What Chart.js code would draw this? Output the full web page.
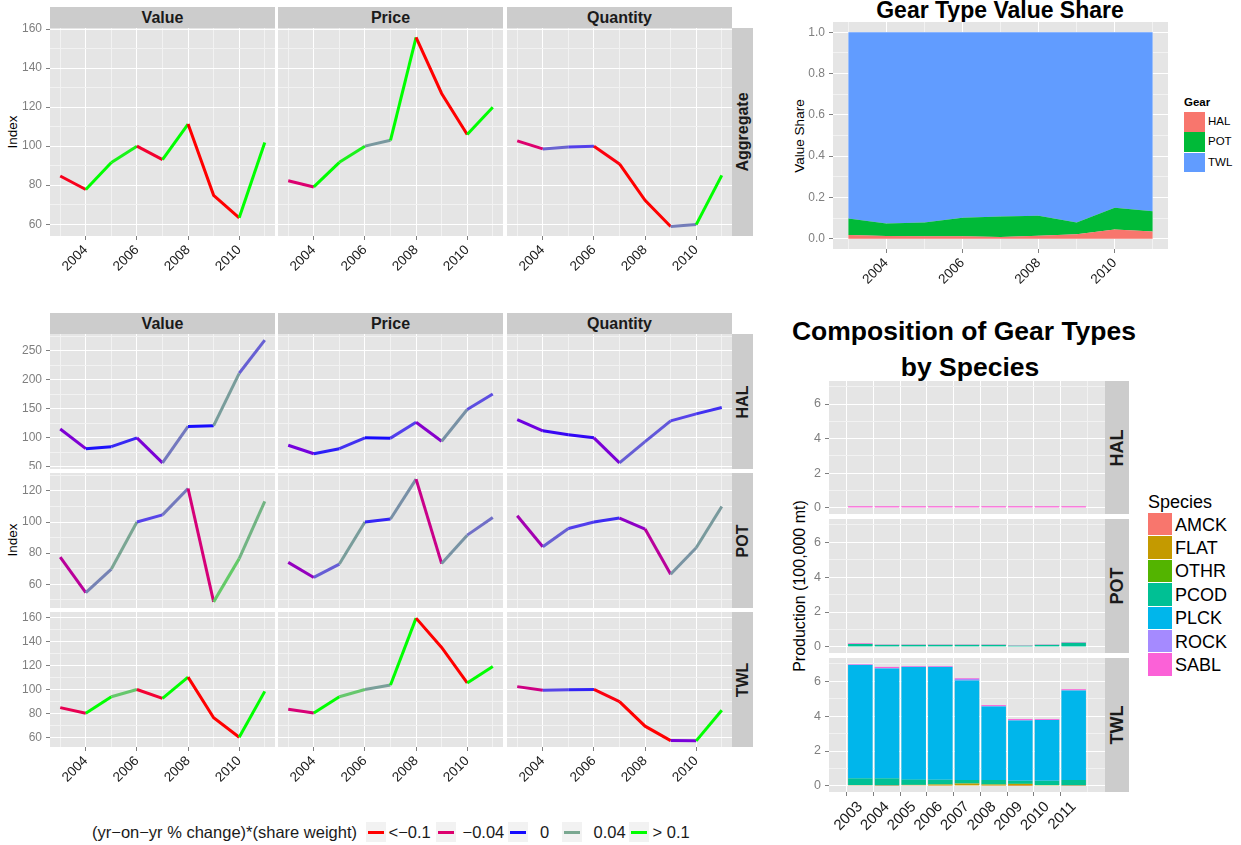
<!DOCTYPE html>
<html>
<head>
<meta charset="utf-8">
<title>Gear type indices</title>
<script src="https://cdn.jsdelivr.net/npm/chart.js@4.4.1/dist/chart.umd.min.js"></script>
<style>
  body { margin: 0; width: 1241px; height: 845px; background: #fff; position: relative; overflow: hidden;
         font-family: "Liberation Sans", Arial, Helvetica, sans-serif; }
  canvas { position: absolute; }
  .box { position: absolute; }
  .txt { position: absolute; white-space: nowrap; line-height: 1; }
</style>
</head>
<body>
<script>
var years = [2003, 2004, 2005, 2006, 2007, 2008, 2009, 2010, 2011];
var measures = ["Value", "Price", "Quantity"];
var gears = ["HAL", "POT", "TWL"];

// indices, 2006 = 100
var aggValue    = [84.7, 77.8, 91.6, 100, 93.1, 111.3, 74.8, 63.3, 101.9];
var aggPrice    = [82.3, 79.1, 91.7, 100, 103.0, 155.7, 127.0, 106.0, 119.9];
var aggQuantity = [102.7, 98.6, 99.6, 100, 90.9, 72.2, 58.8, 59.8, 85.0];

var halValue    = [115.2, 81.4, 84.9, 100, 57.0, 119.7, 121.0, 211.0, 268.0];
var halPrice    = [87.3, 72.6, 81.4, 100, 99.5, 126.7, 94.2, 148.8, 175.5];
var halQuantity = [131.4, 112.2, 105.2, 100, 57.0, 93.5, 129.1, 141.3, 152.3];

var potValue    = [77.4, 54.6, 69.8, 100, 104.6, 121.6, 48.7, 76.5, 113.3];
var potPrice    = [74.1, 64.4, 73.0, 100, 102.0, 127.6, 73.3, 91.6, 103.0];
var potQuantity = [104.1, 84.1, 95.9, 100, 102.6, 95.5, 66.5, 83.5, 110.0];

var twlValue    = [84.8, 80.1, 93.9, 100, 92.5, 110.3, 76.4, 60.0, 98.4];
var twlPrice    = [83.5, 80.3, 93.9, 100, 103.8, 159.7, 135.2, 105.5, 119.3];
var twlQuantity = [102.4, 99.3, 99.8, 100, 89.9, 69.3, 57.2, 57.0, 82.6];

// gear value shares
var halShare = [0.018, 0.013, 0.012, 0.012, 0.008, 0.014, 0.021, 0.044, 0.035];
var potShare = [0.080, 0.060, 0.067, 0.089, 0.099, 0.097, 0.057, 0.106, 0.098];
var twlShare = [0.902, 0.927, 0.921, 0.899, 0.893, 0.889, 0.922, 0.850, 0.867];

// production by species (100,000 mt)
var species = ["AMCK", "FLAT", "OTHR", "PCOD", "PLCK", "ROCK", "SABL"];

var halAMCK = [0, 0, 0, 0, 0, 0, 0, 0, 0];
var halFLAT = [0, 0, 0, 0, 0, 0, 0, 0, 0];
var halOTHR = [0, 0, 0, 0, 0, 0, 0, 0, 0];
var halPCOD = [0, 0, 0, 0, 0, 0, 0, 0, 0];
var halPLCK = [0, 0, 0, 0, 0, 0, 0, 0, 0];
var halROCK = [0, 0, 0, 0, 0, 0, 0, 0, 0];
var halSABL = [0.1, 0.1, 0.1, 0.1, 0.1, 0.1, 0.1, 0.1, 0.1];

var potAMCK = [0, 0, 0, 0, 0, 0, 0, 0, 0];
var potFLAT = [0, 0, 0, 0, 0, 0, 0, 0, 0];
var potOTHR = [0, 0, 0, 0.03, 0.03, 0.03, 0.03, 0.03, 0];
var potPCOD = [0.17, 0.12, 0.12, 0.09, 0.09, 0.09, 0.04, 0.09, 0.24];
var potPLCK = [0, 0, 0, 0, 0, 0, 0, 0, 0];
var potROCK = [0, 0, 0, 0, 0, 0, 0, 0, 0];
var potSABL = [0.04, 0.02, 0.02, 0.02, 0.02, 0.02, 0.02, 0.02, 0.03];

var twlAMCK = [0.04, 0.01, 0.04, 0.02, 0.03, 0.02, 0.01, 0.03, 0.01];
var twlFLAT = [0.00, 0.01, 0.01, 0.05, 0.10, 0.05, 0.10, 0.01, 0.01];
var twlOTHR = [0.01, 0.01, 0.01, 0.02, 0.01, 0.02, 0.01, 0.01, 0.01];
var twlPCOD = [0.38, 0.40, 0.30, 0.26, 0.20, 0.25, 0.17, 0.24, 0.31];
var twlPLCK = [6.50, 6.30, 6.45, 6.46, 5.70, 4.21, 3.46, 3.48, 5.13];
var twlROCK = [0.02, 0.02, 0.02, 0.02, 0.09, 0.02, 0.02, 0.01, 0.01];
var twlSABL = [0.03, 0.07, 0.04, 0.04, 0.04, 0.06, 0.06, 0.05, 0.06];

var changeBreaks = [-0.1, -0.04, 0, 0.04, 0.1];
var changeLabels = ["<\u22120.1", "\u22120.04", "0", "0.04", "> 0.1"];

// ---------- styles ----------
var speciesColors = ["#F8766D", "#C49A00", "#53B400", "#00C094", "#00B6EB", "#A58AFF", "#FB61D7"];
var gearColors = ["#F8766D", "#00BA38", "#619CFF"];

// colour ramp for (yr-on-yr % change)*(share weight)
var ramp = [
  [-0.10, 255, 0, 0],
  [-0.06, 240, 0, 60],
  [-0.04, 221, 0, 110],
  [-0.02, 195, 0, 145],
  [-0.008, 150, 0, 190],
  [-0.002, 115, 0, 222],
  [0, 20, 10, 255],
  [0.004, 85, 65, 235],
  [0.012, 112, 110, 200],
  [0.022, 120, 140, 170],
  [0.04, 122, 168, 145],
  [0.065, 95, 210, 95],
  [0.10, 0, 255, 0]
];
function shade(m) {
  if (m <= ramp[0][0]) return 'rgb(255,0,0)';
  for (var k = 1; k < ramp.length; k++) {
    if (m <= ramp[k][0]) {
      var a = ramp[k - 1], b = ramp[k], t = (m - a[0]) / (b[0] - a[0]);
      return 'rgb(' + [1, 2, 3].map(function (j) { return Math.round(a[j] + t * (b[j] - a[j])); }).join(',') + ')';
    }
  }
  return 'rgb(0,255,0)';
}
function segShade(series, weights, i) {
  var w = weights ? weights[i] : 1;
  return shade((series[i] - series[i - 1]) / series[i - 1] * w);
}

Chart.defaults.font.family = '"Liberation Sans", Arial, Helvetica, sans-serif';
Chart.defaults.animation = false;

var panelBg = {
  id: 'panelBg',
  beforeDraw: function (chart) {
    var a = chart.chartArea, c = chart.ctx;
    c.save();
    c.fillStyle = '#e5e5e5';
    c.fillRect(a.left, a.top, a.right - a.left, a.bottom - a.top);
    c.restore();
  }
};

function box(x, y, w, h, color) {
  var d = document.createElement('div');
  d.className = 'box';
  d.style.cssText = 'left:' + x + 'px;top:' + y + 'px;width:' + w + 'px;height:' + h + 'px;background:' + color + ';';
  document.body.appendChild(d);
  return d;
}
function text(str, x, y, size, o) {
  o = o || {};
  var d = document.createElement('div');
  d.className = 'txt';
  d.textContent = str;
  d.style.cssText = 'left:' + x + 'px;top:' + y + 'px;font-size:' + size + 'px;color:' + (o.color || '#000') + ';' +
    (o.bold ? 'font-weight:bold;' : '') +
    'transform:translate(' + (o.left ? '0' : '-50%') + ',-50%)' + (o.rot ? ' rotate(-90deg)' : '') + ';';
  document.body.appendChild(d);
}
function canvasAt(x, y, w, h) {
  var cv = document.createElement('canvas');
  cv.width = w; cv.height = h;
  cv.style.left = x + 'px'; cv.style.top = y + 'px';
  document.body.appendChild(cv);
  return cv;
}

function isMajor(v, step) { var r = v / step; return Math.abs(r - Math.round(r)) < 1e-6; }
function halfTicks(min, max, step) {
  var out = [], half = step / 2;
  for (var v = Math.ceil(min / half - 1e-9) * half; v <= max + 1e-9; v += half) out.push({ value: +v.toFixed(6) });
  return out;
}

function yScale(min, max, step, width, fontSize, fmt) {
  var show = width > 0;
  return {
    type: 'linear', min: min, max: max, bounds: 'data', stacked: false,
    afterBuildTicks: function (s) { s.ticks = halfTicks(min, max, step); },
    afterFit: function (s) { s.width = width; s.paddingTop = 0; s.paddingBottom = 0; },
    border: { display: false },
    grid: {
      color: function (c) { return c.tick && isMajor(c.tick.value, step) ? '#ffffff' : '#f2f2f2'; },
      lineWidth: 1, drawTicks: show, tickLength: 4,
      tickColor: function (c) { return c.tick && isMajor(c.tick.value, step) ? '#7f7f7f' : 'rgba(0,0,0,0)'; }
    },
    ticks: {
      display: show, autoSkip: false, padding: 4, color: '#7f7f7f', font: { size: fontSize },
      callback: function (v) { return isMajor(v, step) ? fmt(v) : ''; }
    }
  };
}
function xScale(min, max, vals, majorFn, height, fontSize) {
  var show = height > 0;
  return {
    type: 'linear', min: min, max: max, bounds: 'data',
    afterBuildTicks: function (s) { s.ticks = vals.map(function (v) { return { value: v }; }); },
    afterFit: function (s) { s.height = height; s.paddingLeft = 0; s.paddingRight = 0; },
    border: { display: false },
    grid: {
      color: function (c) { return c.tick && majorFn(c.tick.value) ? '#ffffff' : '#f2f2f2'; },
      lineWidth: 1, drawTicks: show, tickLength: 4,
      tickColor: function (c) { return c.tick && majorFn(c.tick.value) ? '#7f7f7f' : 'rgba(0,0,0,0)'; }
    },
    ticks: {
      display: show, autoSkip: false, padding: 2, color: '#1a1a1a', font: { size: fontSize },
      minRotation: 45, maxRotation: 45,
      callback: function (v) { return majorFn(v) ? String(v) : ''; }
    }
  };
}
function evenYear(v) { return v % 2 === 0; }
function anyYear() { return true; }

function pad5(arrs) {
  var all = [].concat.apply([], arrs);
  var lo = Math.min.apply(null, all), hi = Math.max.apply(null, all), e = (hi - lo) * 0.05;
  return [lo - e, hi + e];
}

function linePanel(series, weights, x, y, w, h, range, step, showY, showX) {
  var padL = showY ? 50 : 0, padB = showX ? 60 : 0, padT = 8;
  var cv = canvasAt(x - padL, y - padT, w + padL, h + padB + padT);
  new Chart(cv, {
    type: 'line',
    data: {
      datasets: [{
        data: series.map(function (v, i) { return { x: years[i], y: v }; }),
        borderWidth: 3, pointRadius: 0, tension: 0, borderCapStyle: 'butt', borderColor: '#0000ff',
        segment: { borderColor: function (c) { return segShade(series, weights, c.p1DataIndex); } }
      }]
    },
    options: {
      responsive: false, layout: { padding: { top: padT } },
      plugins: { legend: { display: false }, tooltip: { enabled: false } },
      scales: {
        x: xScale(2002.6, 2011.4, years, evenYear, padB, 13.5),
        y: yScale(range[0], range[1], step, padL, 12, function (v) { return String(v); })
      }
    },
    plugins: [panelBg]
  });
}

// ---------- left: index facets ----------
var colX = [50, 278, 507], panelW = 225;

// top block (aggregate)
colX.forEach(function (cx, c) {
  box(cx, 7, panelW, 21, '#cccccc');
  text(measures[c], cx + panelW / 2, 17.5, 16, { bold: true, color: '#1a1a1a' });
});
box(732, 28, 21, 208, '#cccccc');
text("Aggregate", 742.5, 132, 16, { bold: true, rot: true, color: '#1a1a1a' });
text("Index", 13, 132, 13.5, { rot: true });

var aggSeries = [aggValue, aggPrice, aggQuantity];
var aggRange = pad5(aggSeries);
aggSeries.forEach(function (s, c) {
  linePanel(s, null, colX[c], 28, panelW, 208, aggRange, 20, c === 0, true);
});

// bottom block (by gear)
colX.forEach(function (cx, c) {
  box(cx, 313, panelW, 21, '#cccccc');
  text(measures[c], cx + panelW / 2, 323.5, 16, { bold: true, color: '#1a1a1a' });
});
text("Index", 13, 540, 13.5, { rot: true });

var gearSeries = [
  [halValue, halPrice, halQuantity],
  [potValue, potPrice, potQuantity],
  [twlValue, twlPrice, twlQuantity]
];
var gearShares = [halShare, potShare, twlShare];
var rowTop = [334, 473, 612], rowH = 135, rowStep = [50, 20, 20];
gearSeries.forEach(function (row, r) {
  var rng = pad5(row);
  box(732, rowTop[r], 21, rowH, '#cccccc');
  text(gears[r], 742.5, rowTop[r] + rowH / 2, 16, { bold: true, rot: true, color: '#1a1a1a' });
  row.forEach(function (s, c) {
    linePanel(s, gearShares[r], colX[c], rowTop[r], panelW, rowH, rng, rowStep[r], c === 0, r === 2);
  });
});

// colour legend
text("(yr\u2212on\u2212yr % change)*(share weight)", 92, 832, 16.5, { left: true, color: '#1a1a1a' });
var keyX = [366, 436, 508, 562, 629], labX = [388.5, 462.5, 540, 593.5, 652.5];
changeBreaks.forEach(function (b, k) {
  box(keyX[k], 822, 20, 20, '#f2f2f2');
  box(keyX[k] + 2, 830.5, 16, 3.5, shade(b));
  text(changeLabels[k], labX[k], 832, 16.5, { left: true, color: '#1a1a1a' });
});

// ---------- top right: value share ----------
text("Gear Type Value Share", 1000, 10, 23, { bold: true });
text("Value Share", 800, 135.5, 13.5, { rot: true });
(function () {
  var px = 833, py = 22, pw = 335, ph = 227, padL = 45, padB = 55;
  var cv = canvasAt(px - padL, py, pw + padL, ph + padB);
  var shares = [halShare, potShare, twlShare];
  new Chart(cv, {
    type: 'line',
    data: {
      datasets: shares.map(function (s, g) {
        return {
          label: gears[g],
          data: s.map(function (v, i) { return { x: years[i], y: v }; }),
          fill: g === 0 ? 'origin' : '-1',
          backgroundColor: gearColors[g], borderColor: 'rgba(0,0,0,0)', borderWidth: 0,
          pointRadius: 0, tension: 0
        };
      })
    },
    options: {
      responsive: false, layout: { padding: 0 },
      plugins: { legend: { display: false }, tooltip: { enabled: false } },
      scales: {
        x: xScale(2002.6, 2011.4, years, evenYear, padB, 13.5),
        y: Object.assign(yScale(-0.05, 1.05, 0.2, padL, 12, function (v) { return v.toFixed(1); }), { stacked: true })
      }
    },
    plugins: [panelBg]
  });
})();
text("Gear", 1184, 103, 11.5, { bold: true, left: true });
gears.forEach(function (g, k) {
  box(1184, 112 + k * 20.3, 21, 19.5, gearColors[k]);
  text(g, 1208, 122 + k * 20.3, 11.5, { left: true });
});

// ---------- bottom right: production by species ----------
text("Composition of Gear Types", 964, 331, 26.5, { bold: true });
text("by Species", 970, 367, 26.5, { bold: true });
text("Production (100,000 mt)", 800, 586, 16, { rot: true });

var prodByGear = [
  [halAMCK, halFLAT, halOTHR, halPCOD, halPLCK, halROCK, halSABL],
  [potAMCK, potFLAT, potOTHR, potPCOD, potPLCK, potROCK, potSABL],
  [twlAMCK, twlFLAT, twlOTHR, twlPCOD, twlPLCK, twlROCK, twlSABL]
];
var totals = [];
prodByGear.forEach(function (g) {
  years.forEach(function (yr, i) { totals.push(g.reduce(function (a, s) { return a + s[i]; }, 0)); });
});
var prodRange = pad5([[0], totals]);
var barTop = [381, 519, 658], barH = [133, 134, 134];
prodByGear.forEach(function (g, r) {
  var px = 829, pw = 276, padL = 40, padB = r === 2 ? 55 : 0;
  var cv = canvasAt(px - padL, barTop[r], pw + padL, barH[r] + padB);
  new Chart(cv, {
    type: 'bar',
    data: {
      datasets: g.map(function (s, k) {
        return {
          label: species[k],
          data: s.map(function (v, i) { return { x: years[i], y: v }; }),
          backgroundColor: speciesColors[k], borderWidth: 0,
          barPercentage: 0.92, categoryPercentage: 1
        };
      })
    },
    options: {
      responsive: false, layout: { padding: 0 },
      plugins: { legend: { display: false }, tooltip: { enabled: false } },
      scales: {
        x: Object.assign(xScale(2002.4, 2011.6, years, anyYear, padB, 15), { stacked: true }),
        y: Object.assign(yScale(prodRange[0], prodRange[1], 2, padL, 12.5, function (v) { return String(v); }), { stacked: true })
      }
    },
    plugins: [panelBg]
  });
  box(1105, barTop[r], 24, barH[r], '#cccccc');
  text(gears[r], 1117, barTop[r] + barH[r] / 2, 18, { bold: true, rot: true, color: '#1a1a1a' });
});

text("Species", 1148, 502, 18, { left: true });
species.forEach(function (sp, k) {
  box(1148, 513 + k * 23.4, 24, 22.4, speciesColors[k]);
  text(sp, 1175, 524.5 + k * 23.4, 18, { left: true });
});
</script>
</body>
</html>
